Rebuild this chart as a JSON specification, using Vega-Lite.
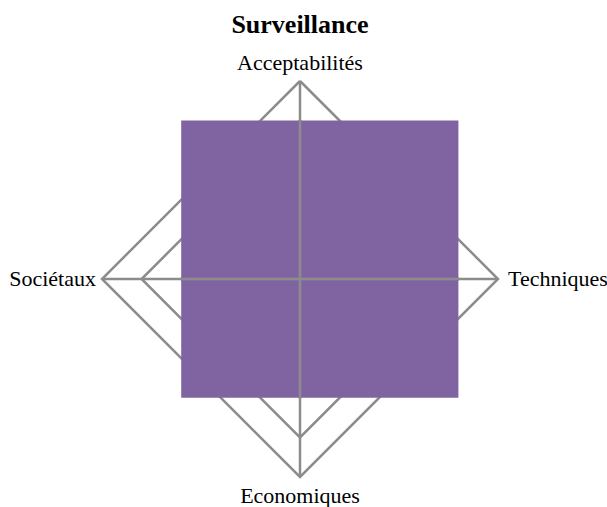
{
  "$schema": "https://vega.github.io/schema/vega-lite/v6.json",
  "width": 396,
  "height": 396,
  "autosize": {"type": "none"},
  "padding": {"left": 102, "top": 81, "right": 109, "bottom": 30},
  "background": "white",
  "config": {"view": {"stroke": null}},
  "title": {"text": "Surveillance", "font": "Liberation Serif", "fontSize": 26, "fontWeight": "bold", "color": "black", "anchor": "middle", "offset": 14},
  "datasets": {
    "grid": [
      {"level": 0.2, "ord": 0, "x": 0, "y": 0.2}, {"level": 0.2, "ord": 1, "x": 0.2, "y": 0}, {"level": 0.2, "ord": 2, "x": 0, "y": -0.2}, {"level": 0.2, "ord": 3, "x": -0.2, "y": 0}, {"level": 0.2, "ord": 4, "x": 0, "y": 0.2},
      {"level": 0.4, "ord": 0, "x": 0, "y": 0.4}, {"level": 0.4, "ord": 1, "x": 0.4, "y": 0}, {"level": 0.4, "ord": 2, "x": 0, "y": -0.4}, {"level": 0.4, "ord": 3, "x": -0.4, "y": 0}, {"level": 0.4, "ord": 4, "x": 0, "y": 0.4},
      {"level": 0.6, "ord": 0, "x": 0, "y": 0.6}, {"level": 0.6, "ord": 1, "x": 0.6, "y": 0}, {"level": 0.6, "ord": 2, "x": 0, "y": -0.6}, {"level": 0.6, "ord": 3, "x": -0.6, "y": 0}, {"level": 0.6, "ord": 4, "x": 0, "y": 0.6},
      {"level": 0.8, "ord": 0, "x": 0, "y": 0.8}, {"level": 0.8, "ord": 1, "x": 0.8, "y": 0}, {"level": 0.8, "ord": 2, "x": 0, "y": -0.8}, {"level": 0.8, "ord": 3, "x": -0.8, "y": 0}, {"level": 0.8, "ord": 4, "x": 0, "y": 0.8},
      {"level": 1.0, "ord": 0, "x": 0, "y": 1.0}, {"level": 1.0, "ord": 1, "x": 1.0, "y": 0}, {"level": 1.0, "ord": 2, "x": 0, "y": -1.0}, {"level": 1.0, "ord": 3, "x": -1.0, "y": 0}, {"level": 1.0, "ord": 4, "x": 0, "y": 1.0}
    ],
    "box": [{"series": "Surveillance", "x0": -0.6, "x1": 0.8, "y0": -0.6, "y1": 0.8}],
    "spokes": [
      {"x": 0, "y": -1, "x2": 0, "y2": 1},
      {"x": -1, "y": 0, "x2": 1, "y2": 0}
    ],
    "labels": [
      {"axis": "Acceptabilités", "x": 0, "y": 1},
      {"axis": "Techniques", "x": 1, "y": 0},
      {"axis": "Economiques", "x": 0, "y": -1},
      {"axis": "Sociétaux", "x": -1, "y": 0}
    ]
  },
  "layer": [
    {
      "data": {"name": "grid"},
      "mark": {"type": "line", "color": "#8c8c8c", "strokeWidth": 2.5, "strokeJoin": "miter"},
      "encoding": {
        "x": {"field": "x", "type": "quantitative", "scale": {"domain": [-1, 1], "nice": false, "zero": false}, "axis": null},
        "y": {"field": "y", "type": "quantitative", "scale": {"domain": [-1, 1], "nice": false, "zero": false}, "axis": null},
        "detail": {"field": "level"},
        "order": {"field": "ord"}
      }
    },
    {
      "data": {"name": "box"},
      "mark": {"type": "rect", "color": "#8064A2"},
      "encoding": {
        "x": {"field": "x0", "type": "quantitative", "axis": null},
        "x2": {"field": "x1"},
        "y": {"field": "y0", "type": "quantitative", "axis": null},
        "y2": {"field": "y1"}
      }
    },
    {
      "data": {"name": "spokes"},
      "mark": {"type": "rule", "color": "#8c8c8c", "strokeWidth": 2.5},
      "encoding": {
        "x": {"field": "x", "type": "quantitative", "axis": null},
        "y": {"field": "y", "type": "quantitative", "axis": null},
        "x2": {"field": "x2"},
        "y2": {"field": "y2"}
      }
    },
    {
      "data": {"name": "labels"},
      "transform": [{"filter": "datum.axis === 'Acceptabilités'"}],
      "mark": {"type": "text", "font": "Liberation Serif", "fontSize": 22, "color": "black", "align": "center", "baseline": "alphabetic", "dy": -11},
      "encoding": {
        "x": {"field": "x", "type": "quantitative", "axis": null},
        "y": {"field": "y", "type": "quantitative", "axis": null},
        "text": {"field": "axis"}
      }
    },
    {
      "data": {"name": "labels"},
      "transform": [{"filter": "datum.axis === 'Economiques'"}],
      "mark": {"type": "text", "font": "Liberation Serif", "fontSize": 22, "color": "black", "align": "center", "baseline": "alphabetic", "dy": 26},
      "encoding": {
        "x": {"field": "x", "type": "quantitative", "axis": null},
        "y": {"field": "y", "type": "quantitative", "axis": null},
        "text": {"field": "axis"}
      }
    },
    {
      "data": {"name": "labels"},
      "transform": [{"filter": "datum.axis === 'Techniques'"}],
      "mark": {"type": "text", "font": "Liberation Serif", "fontSize": 22, "color": "black", "align": "left", "baseline": "middle", "dx": 10},
      "encoding": {
        "x": {"field": "x", "type": "quantitative", "axis": null},
        "y": {"field": "y", "type": "quantitative", "axis": null},
        "text": {"field": "axis"}
      }
    },
    {
      "data": {"name": "labels"},
      "transform": [{"filter": "datum.axis === 'Sociétaux'"}],
      "mark": {"type": "text", "font": "Liberation Serif", "fontSize": 22, "color": "black", "align": "right", "baseline": "middle", "dx": -6},
      "encoding": {
        "x": {"field": "x", "type": "quantitative", "axis": null},
        "y": {"field": "y", "type": "quantitative", "axis": null},
        "text": {"field": "axis"}
      }
    }
  ]
}
